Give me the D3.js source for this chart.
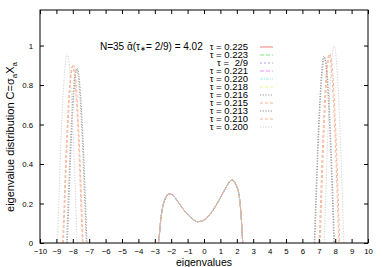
<!DOCTYPE html>
<html><head><meta charset="utf-8">
<script src="https://cdn.jsdelivr.net/npm/d3@7/dist/d3.min.js"></script>
<style>body{margin:0;background:#fff}svg{font-family:"Liberation Sans",Arial,sans-serif}</style>
</head><body><svg id="c" width="382" height="267"></svg>
<script>
const xTicks = d3.range(-10, 11, 1);
const yTicks = [0, 0.2, 0.4, 0.6, 0.8, 1];
const tauLabels = ["0.225","0.223","2/9","0.221","0.220","0.218","0.216","0.215","0.213","0.210","0.200"];
const colors = ["#f48080","#80e880","#a0a0f4","#f490f4","#90f4f4","#f0f090","#9a9a9a","#f8b090","#909090","#f8b090","#cccccc"];
const dashes = ["none","4,2","2,2","4,2","3,1,1,1","3,2","1.2,1.5","3,2","1.2,1.5","3,2","1.2,1.5"];

// central bimodal band (all tau overlap)
const centerX = [-2.78,-2.7,-2.64,-2.55,-2.45,-2.3,-2.12,-1.9,-1.6,-1.3,-1.0,-0.7,-0.4,-0.1,0.2,0.5,0.8,1.1,1.4,1.6,1.7,1.85,2.0,2.1,2.2,2.27,2.32,2.36];
const centerY = [0,0.06,0.116,0.17,0.205,0.235,0.248,0.243,0.21,0.175,0.145,0.122,0.108,0.112,0.13,0.16,0.2,0.245,0.29,0.315,0.32,0.31,0.285,0.26,0.2,0.13,0.06,0];

// side peaks (only lower tau)
const leftX = {
  6:[-8.38,-8.28,-8.18,-8.08,-7.98,-7.88,-7.78,-7.68,-7.58,-7.48,-7.38,-7.28,-7.18],
  7:[-8.62,-8.52,-8.42,-8.32,-8.22,-8.12,-8.02,-7.92,-7.82,-7.72,-7.62,-7.52,-7.42],
  8:[-8.33,-8.23,-8.13,-8.03,-7.93,-7.83,-7.73,-7.63,-7.53,-7.43,-7.33,-7.23,-7.13],
  9:[-8.57,-8.47,-8.37,-8.27,-8.17,-8.07,-7.97,-7.87,-7.77,-7.67,-7.57,-7.47,-7.37],
  10:[-8.94,-8.84,-8.74,-8.64,-8.54,-8.44,-8.34,-8.24,-8.14,-8.04,-7.94,-7.84,-7.74]
};
const leftY = {
  6:[0,0.22,0.44,0.62,0.76,0.85,0.88,0.85,0.76,0.62,0.44,0.22,0],
  7:[0,0.22,0.45,0.63,0.77,0.86,0.895,0.86,0.77,0.63,0.45,0.22,0],
  8:[0,0.22,0.44,0.62,0.76,0.85,0.885,0.85,0.76,0.62,0.44,0.22,0],
  9:[0,0.23,0.45,0.63,0.78,0.87,0.905,0.87,0.78,0.63,0.45,0.23,0],
  10:[0,0.24,0.48,0.67,0.82,0.92,0.957,0.92,0.82,0.67,0.48,0.24,0]
};
const rightX = {
  6:[6.76,6.86,6.96,7.06,7.16,7.26,7.36,7.46,7.56,7.66,7.76,7.86,7.96],
  7:[7.02,7.12,7.22,7.32,7.42,7.52,7.62,7.72,7.82,7.92,8.02,8.12,8.22],
  8:[6.72,6.82,6.92,7.02,7.12,7.22,7.32,7.42,7.52,7.62,7.72,7.82,7.92],
  9:[7.08,7.18,7.28,7.38,7.48,7.58,7.68,7.78,7.88,7.98,8.08,8.18,8.28],
  10:[7.33,7.43,7.53,7.63,7.73,7.83,7.93,8.03,8.13,8.23,8.33,8.43,8.53]
};
const rightY = {
  6:[0,0.24,0.47,0.66,0.81,0.9,0.94,0.9,0.81,0.66,0.47,0.24,0],
  7:[0,0.24,0.48,0.67,0.82,0.92,0.955,0.92,0.82,0.67,0.48,0.24,0],
  8:[0,0.24,0.47,0.66,0.81,0.91,0.947,0.91,0.81,0.66,0.47,0.24,0],
  9:[0,0.24,0.48,0.67,0.83,0.92,0.96,0.92,0.83,0.67,0.48,0.24,0],
  10:[0,0.25,0.5,0.7,0.86,0.96,1.0,0.96,0.86,0.7,0.5,0.25,0]
};

const svg = d3.select("#c");
const L=40,R=368,T=10,B=243;
const x = d3.scaleLinear().domain([-10,10]).range([L,R]);
const y = d3.scaleLinear().domain([0,1.18]).range([B,T]);

const line = d3.line().x(d=>x(d[0])).y(d=>y(d[1])).curve(d3.curveMonotoneX);
const plot = svg.append("g");
plot.append("clipPath").attr("id","cp").append("rect").attr("x",L).attr("y",T).attr("width",R-L).attr("height",B-T);
const g = plot.append("g").attr("clip-path","url(#cp)");

tauLabels.forEach((t,i)=>{
  const segs = [centerX.map((v,k)=>[v,centerY[k]])];
  if (leftX[i]) segs.push(leftX[i].map((v,k)=>[v,leftY[i][k]]));
  if (rightX[i]) segs.push(rightX[i].map((v,k)=>[v,rightY[i][k]]));
  segs.forEach(s=>{
    g.append("path").attr("d",line(s)).attr("fill","none").attr("stroke",colors[i])
      .attr("stroke-width",0.9).attr("stroke-dasharray",dashes[i]);
  });
});

// frame
svg.append("rect").attr("x",L).attr("y",T).attr("width",R-L).attr("height",B-T)
  .attr("fill","none").attr("stroke","#000").attr("stroke-width",1);

// axes ticks inward
const xb = svg.append("g").attr("transform",`translate(0,${B})`)
  .call(d3.axisBottom(x).tickValues(xTicks).tickSize(-4).tickPadding(5).tickFormat(d3.format("d")));
const xt = svg.append("g").attr("transform",`translate(0,${T})`)
  .call(d3.axisTop(x).tickValues(xTicks).tickSize(-4).tickFormat(""));
const yl = svg.append("g").attr("transform",`translate(${L},0)`)
  .call(d3.axisLeft(y).tickValues(yTicks).tickSize(-4).tickPadding(7).tickFormat(d=>d===0?"0":d===1?"1":d3.format(".1f")(d)));
const yr = svg.append("g").attr("transform",`translate(${R},0)`)
  .call(d3.axisRight(y).tickValues(yTicks).tickSize(-4).tickFormat(""));
[xb,xt,yl,yr].forEach(a=>{
  a.select(".domain").remove();
  a.selectAll(".tick line").attr("stroke","#000");
  a.selectAll("text").attr("font-size",7.8).attr("fill","#000").attr("font-family","Liberation Sans, Arial, sans-serif");
});

// axis labels
svg.append("text").attr("x",(L+R)/2).attr("y",266).attr("text-anchor","middle")
  .attr("font-size",10.5).text("eigenvalues");
const ylab = svg.append("text").attr("transform","translate(14,137) rotate(-90)")
  .attr("text-anchor","middle").attr("font-size",11);
ylab.append("tspan").text("eigenvalue distribution C=σ");
ylab.append("tspan").attr("font-size",8).attr("dy",3).text("a");
ylab.append("tspan").attr("dy",-3).text("X");
ylab.append("tspan").attr("font-size",8).attr("dy",3).text("a");

// title
const tt = svg.append("text").attr("x",100).attr("y",50).attr("font-size",10);
tt.append("tspan").text("N=35 ᾱ(τ");
tt.append("tspan").attr("font-size",7).attr("dy",1).text("∗");
tt.append("tspan").attr("dy",-1).text("= 2/9) = 4.02");

// legend
tauLabels.forEach((t,i)=>{
  const yy = 46 + i*8;
  if (t==="2/9") {
    svg.append("text").attr("x",229).attr("y",yy+3.5).attr("font-size",9.5).attr("text-anchor","end").text("τ =");
    svg.append("text").attr("x",248).attr("y",yy+3.5).attr("font-size",9.5).attr("text-anchor","end").text(t);
  } else {
    svg.append("text").attr("x",248).attr("y",yy+3.5).attr("font-size",9.5).attr("text-anchor","end").text("τ = "+t);
  }
  svg.append("line").attr("x1",260).attr("x2",273).attr("y1",yy+1).attr("y2",yy+1)
    .attr("stroke",colors[i]).attr("stroke-width",1).attr("stroke-dasharray",dashes[i]);
});
</script></body></html>
